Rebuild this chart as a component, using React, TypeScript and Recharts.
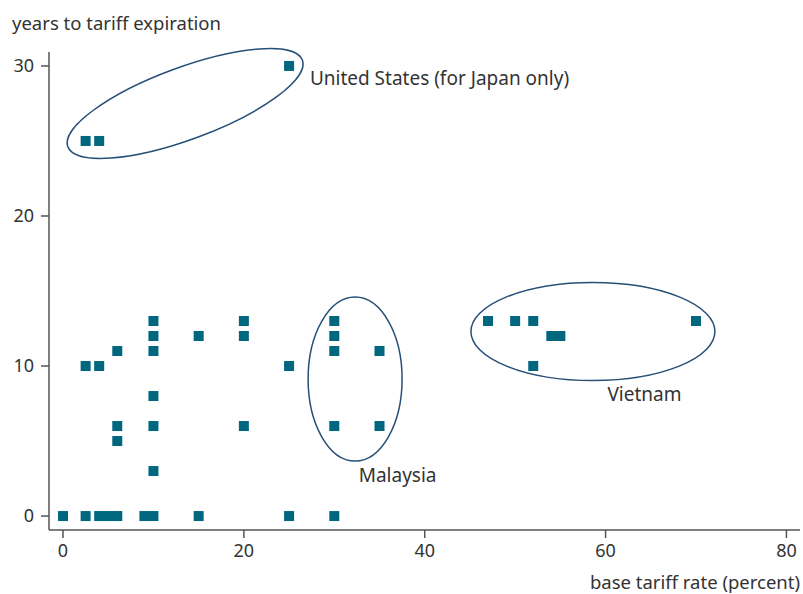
import React from "react";
import {
  ScatterChart,
  Scatter,
  XAxis,
  YAxis,
  ReferenceArea,
  ReferenceDot,
  Label,
} from "recharts";

// base tariff rate (percent) vs years to tariff expiration
const rateValues = [
  0, 2.5, 4, 5, 6, 9, 10, 15, 25, 30,
  10,
  6,
  6, 10, 20, 30, 35,
  10,
  2.5, 4, 25, 52,
  6, 10, 30, 35,
  10, 15, 20, 30, 54, 55,
  10, 20, 30, 47, 50, 52, 70,
  2.5, 4,
  25,
];
const yearValues = [
  0, 0, 0, 0, 0, 0, 0, 0, 0, 0,
  3,
  5,
  6, 6, 6, 6, 6,
  8,
  10, 10, 10, 10,
  11, 11, 11, 11,
  12, 12, 12, 12, 12, 12,
  13, 13, 13, 13, 13, 13, 13,
  25, 25,
  30,
];

const xTicks = [0, 20, 40, 60, 80];
const yTicks = [0, 10, 20, 30];

// circled groups
const groupNames = ["United States (for Japan only)", "Malaysia", "Vietnam"];
const groupCenterX = [13.5, 32.3, 58.6];
const groupCenterY = [27.5, 9.13, 12.3];
const groupLabelX = [27.3, 32.7, 60.2];
const groupLabelY = [29.2, 2.7, 8.1];

const points = rateValues.map((x, i) => ({ x, y: yearValues[i] }));

const FONT = "'Noto Sans', sans-serif";
const MARK = "#00677f";
const RING = "#264f78";
const TEXT = "#333";
const AXIS = "#555";

const ringShapes = [
  { rx: 125, ry: 36, rot: -20.3 },
  { rx: 47, ry: 82, rot: 0 },
  { rx: 122, ry: 49, rot: 0 },
];

const Square = (props: any) => {
  const { cx, cy } = props;
  return <rect x={cx - 5} y={cy - 5} width={10} height={10} fill={MARK} />;
};

const App = () => {
  return (
    <div style={{ position: "absolute", left: 0, top: 0 }}>
      <ScatterChart
        width={803}
        height={594}
        margin={{ top: 52, right: 3, bottom: 0, left: 0 }}
      >
        <ReferenceArea
          fill="none"
          stroke={AXIS}
          strokeWidth={1.5}
          ifOverflow="visible"
        />
        <XAxis
          type="number"
          dataKey="x"
          domain={[-1.55, 81.5]}
          ticks={xTicks}
          allowDataOverflow
          height={64}
          tickSize={8}
          tickMargin={6}
          stroke={AXIS}
          strokeWidth={1.5}
          tick={{ fill: TEXT, fontSize: 18, fontFamily: FONT }}
        >
          <Label
            content={(p: any) => {
              const vb = p.viewBox;
              return (
                <text
                  x={vb.x + vb.width}
                  y={vb.y + 59}
                  textAnchor="end"
                  fill={TEXT}
                  fontSize={18.5}
                  fontFamily={FONT}
                >
                  base tariff rate (percent)
                </text>
              );
            }}
          />
        </XAxis>
        <YAxis
          type="number"
          dataKey="y"
          domain={[-0.93, 30.93]}
          ticks={yTicks}
          allowDataOverflow
          width={49}
          tickSize={8}
          tickMargin={7}
          stroke={AXIS}
          strokeWidth={1.5}
          tick={{ fill: TEXT, fontSize: 18, fontFamily: FONT }}
        >
          <Label
            content={(p: any) => {
              const vb = p.viewBox;
              return (
                <text
                  x={12}
                  y={vb.y - 22}
                  fill={TEXT}
                  fontSize={18.5}
                  fontFamily={FONT}
                >
                  years to tariff expiration
                </text>
              );
            }}
          />
        </YAxis>
        <Scatter
          data={points}
          shape={Square}
          isAnimationActive={false}
        />
        {groupNames.map((name, i) => (
          <ReferenceDot
            key={"ring" + i}
            x={groupCenterX[i]}
            y={groupCenterY[i]}
            ifOverflow="visible"
            shape={(p: any) => (
              <ellipse
                cx={p.cx}
                cy={p.cy}
                rx={ringShapes[i].rx}
                ry={ringShapes[i].ry}
                transform={`rotate(${ringShapes[i].rot} ${p.cx} ${p.cy})`}
                fill="none"
                stroke={RING}
                strokeWidth={1.5}
              />
            )}
          />
        ))}
        {groupNames.map((name, i) => (
          <ReferenceDot
            key={"lab" + i}
            x={groupLabelX[i]}
            y={groupLabelY[i]}
            ifOverflow="visible"
            shape={(p: any) => (
              <text
                x={p.cx}
                y={p.cy}
                dy="0.35em"
                fill={TEXT}
                fontSize={19}
                fontFamily={FONT}
              >
                {name}
              </text>
            )}
          />
        ))}
      </ScatterChart>
    </div>
  );
};

export default App;
